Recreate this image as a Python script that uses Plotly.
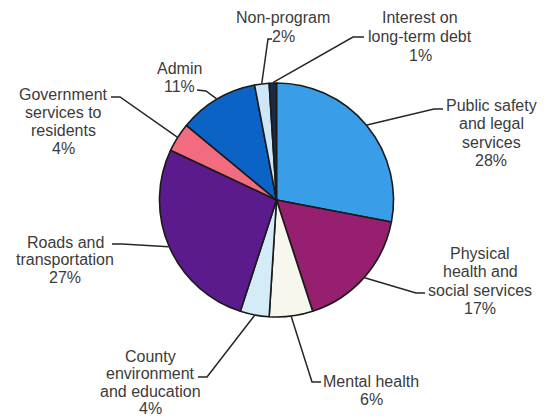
import math
import plotly.graph_objects as go

# ---- data ----
categories = [
    "Public safety and legal services",
    "Physical health and social services",
    "Mental health",
    "County environment and education",
    "Roads and transportation",
    "Government services to residents",
    "Admin",
    "Non-program",
    "Interest on long-term debt",
]
shares = [28, 17, 6, 4, 27, 4, 11, 2, 1]
label_lines = [
    ["Public safety", "and legal", "services", "28%"],
    ["Physical", "health and", "social services", "17%"],
    ["Mental health", "6%"],
    ["County", "environment", "and education", "4%"],
    ["Roads and", "transportation", "27%"],
    ["Government", "services to", "residents", "4%"],
    ["Admin", "11%"],
    ["Non-program", "2%"],
    ["Interest on", "long-term debt", "1%"],
]
colors = ["#3a9de8", "#961f6f", "#f8f7ee", "#d3ecf8", "#5b1b8c",
          "#f26b7f", "#0c63c6", "#cde6f8", "#1b2a45"]

# ---- layout (pixels) ----
W, H = 548, 419
CX, CY, R = 276.5, 200.0, 117.0
FONT = "Liberation Sans, Arial, sans-serif"
TEXT_COLOR = "#3b3b3b"
LINE_COLOR = "#262626"

# label placement: (text center x, first line y, line step, hook end (x,y), elbow (x,y))
label_pos = [
    (491, 105, 18.6, (443, 109), (434, 109)),
    (480, 253, 18.6, (425, 293), (416, 293)),
    (371, 381, 18.0, (321, 382), (312, 382)),
    (150, 356, 17.6, (198, 377), (207, 377)),
    (65, 242, 17.7, (112, 244), (122, 244)),
    (63, 94, 18.2, (111, 97), (120, 97)),
    (179, 68, 18.2, (197, 90), (206, 91)),
    (283, 17.5, 19.0, (272, 39), (268, 39)),
    (420, 17.5, 19.0, (364, 37), (353, 37)),
]


def px(x):
    return x / W


def py(y):
    return 1 - y / H


fig = go.Figure(go.Pie(
    labels=categories,
    values=shares,
    sort=False,
    direction="clockwise",
    rotation=0,
    textinfo="none",
    hoverinfo="label+percent",
    marker=dict(colors=colors, line=dict(color="#1a1a1a", width=1.6)),
    domain=dict(x=[px(CX - R), px(CX + R)], y=[py(CY + R), py(CY - R)]),
    showlegend=False,
))

annotations = []
shapes = []
total = sum(shares)
cum = 0
for lines, v, (tx, ty, step, hook, elbow) in zip(label_lines, shares, label_pos):
    mid = (cum + v / 2) / total * 2 * math.pi
    cum += v
    sx = CX + (R + 0.5) * math.sin(mid)
    sy = CY - (R + 0.5) * math.cos(mid)
    pts = [(sx, sy), elbow, hook]
    path = "M " + " L ".join(f"{px(x):.5f},{py(y):.5f}" for x, y in pts)
    shapes.append(dict(type="path", path=path, xref="paper", yref="paper",
                       line=dict(color=LINE_COLOR, width=1.5)))
    for i, t in enumerate(lines):
        annotations.append(dict(
            x=px(tx), y=py(ty + i * step), xref="paper", yref="paper",
            text=t, showarrow=False, xanchor="center", yanchor="middle",
            font=dict(family=FONT, size=16, color=TEXT_COLOR),
        ))

fig.update_layout(
    width=W, height=H,
    margin=dict(l=0, r=0, t=0, b=0),
    paper_bgcolor="white", plot_bgcolor="white",
    annotations=annotations, shapes=shapes,
)

fig.write_html(
    "out.html",
    config={"displayModeBar": False},
    post_script="document.body.style.margin='0px';document.body.style.overflow='hidden';",
)
